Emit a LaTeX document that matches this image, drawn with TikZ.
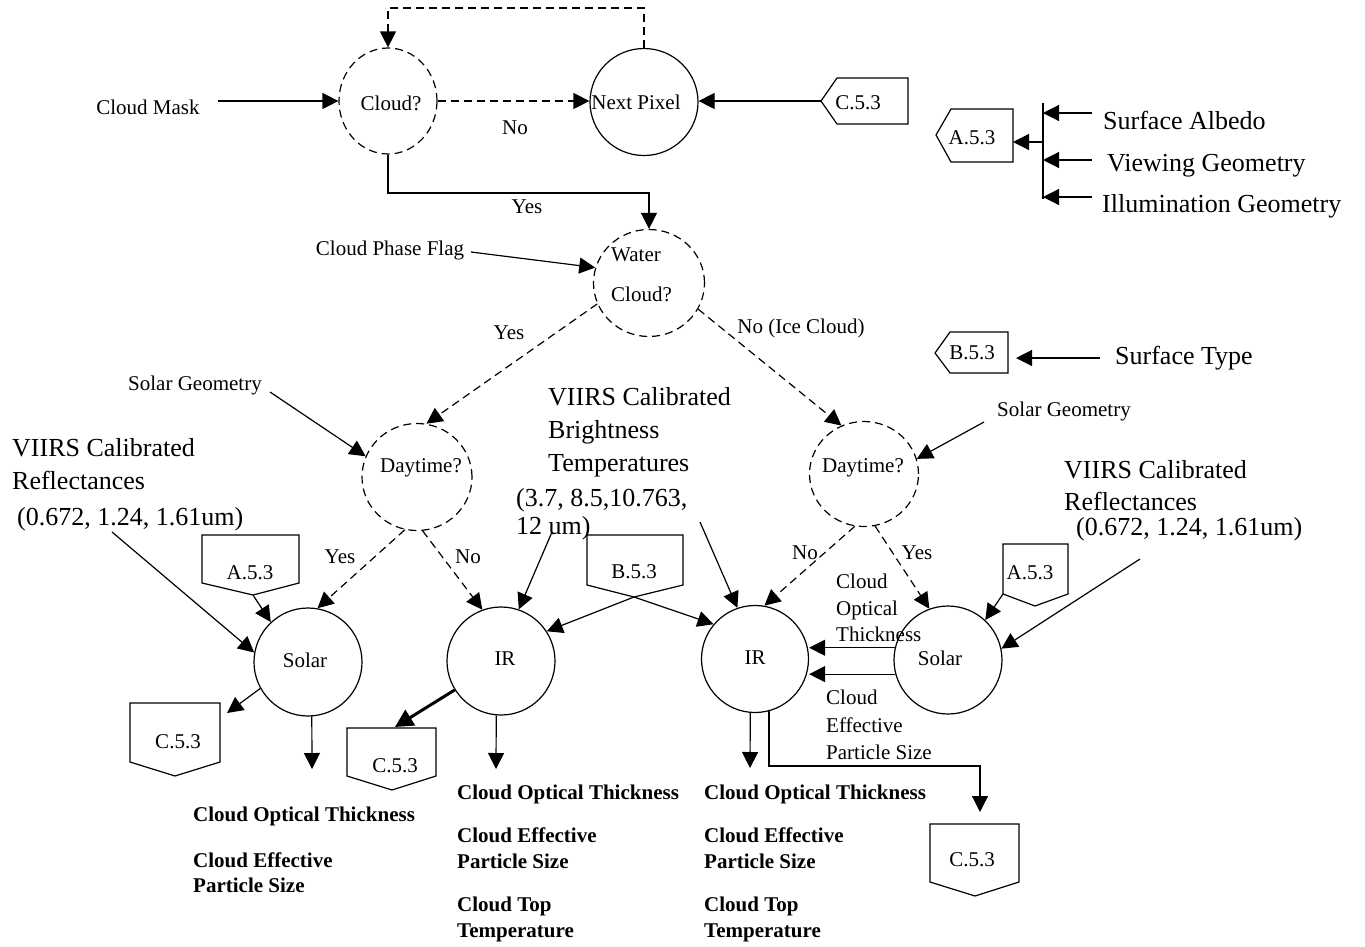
\documentclass[tikz,border=0pt]{standalone}
\usepackage{fontspec}
\setmainfont{Liberation Serif}
\usetikzlibrary{arrows.meta,shapes.geometric,calc}
\begin{document}
\begin{tikzpicture}[x=1pt,y=-1pt,
  ln/.style={line width=1.2pt},
  arr/.style={ln,-{Triangle[length=16pt,width=16pt]}},
  thickarr/.style={line width=3pt,-{Triangle[length=18pt,width=18pt]}},
  dsh/.style={dash pattern=on 8pt off 5pt},
  dec/.style={ellipse,draw,ln,dsh,inner sep=0pt},
  proc/.style={ellipse,draw,ln,inner sep=0pt},
  sm/.style={font=\fontsize{21}{25}\selectfont,inner sep=0pt},
  lg/.style={font=\fontsize{26}{33}\selectfont,inner sep=0pt,align=left},
  bd/.style={font=\bfseries\fontsize{21}{25.5}\selectfont,inner sep=0pt,align=left,anchor=west},
  conn/.style={draw,ln,line join=miter}
]
\useasboundingbox (0,0) rectangle (1365,946);

% ---------- process / decision circles ----------
\node[dec,minimum width=98pt,minimum height=106pt] (cloud) at (388,101) {};
\node[sm] (cloudT) at (391,103) {Cloud?};
\node[proc,minimum width=108pt,minimum height=107pt] (np) at (644,102) {};
\node[sm] (npT) at (636,102) {Next Pixel};
\node[dec,minimum width=111pt,minimum height=107pt] (water) at (649,283) {};
\node[sm,align=left,anchor=west,font=\fontsize{21}{40}\selectfont] (waterT) at (611,275) {Water\\Cloud?};
\node[dec,minimum width=110pt,minimum height=107pt] (dayL) at (417,477) {};
\node[sm] (dayLT) at (421,468) {Daytime?};
\node[dec,minimum width=109pt,minimum height=105pt] (dayR) at (864,474) {};
\node[sm] (dayRT) at (863,468) {Daytime?};
\node[proc,minimum size=108pt] (solL) at (308,662) {};
\node[sm] (solLT) at (305,660) {Solar};
\node[proc,minimum size=108pt] (irL) at (501,661) {};
\node[sm] (irLT) at (505,659) {IR};
\node[proc,minimum size=107pt] (irR) at (755,659) {};
\node[sm] (irRT) at (755,658) {IR};
\node[proc,minimum size=108pt] (solR) at (948,660) {};
\node[sm] (solRT) at (940,658) {Solar};

% ---------- off-page connectors ----------
\draw[conn] (821,101) -- (837,78) -- (908,78) -- (908,124) -- (837,124) -- cycle;
\node[sm] (cTop) at (858,103) {C.5.3};
\coordinate (cTopTip) at (821,101);

\draw[conn] (936,135) -- (951,109) -- (1013,109) -- (1013,162) -- (951,162) -- cycle;
\node[sm] (aTop) at (972,138) {A.5.3};
\coordinate (aTopE) at (1013,142);

\draw[conn] (935,353) -- (950,332) -- (1008,332) -- (1008,373) -- (950,373) -- cycle;
\node[sm] (bR) at (972,353) {B.5.3};
\coordinate (bRTip) at (1016,358);

\draw[conn] (202,535) -- (299,535) -- (299,583) -- (253,595) -- (202,583) -- cycle;
\node[sm] (aL) at (250,573) {A.5.3};
\coordinate (aLTip) at (253,595);

\draw[conn] (587,535) -- (683,535) -- (683,585) -- (634,597) -- (587,585) -- cycle;
\node[sm] (bM) at (634,572) {B.5.3};
\coordinate (bMTip) at (634,597);

\draw[conn] (1003,544) -- (1068,544) -- (1068,594) -- (1035,606) -- (1003,594) -- cycle;
\node[sm] (aR) at (1030,573) {A.5.3};
\coordinate (aRS) at (1003,594);

\draw[conn] (130,703) -- (220,703) -- (220,762) -- (175,776) -- (130,762) -- cycle;
\node[sm] (cL) at (178,742) {C.5.3};
\coordinate (cLTip) at (227,713);

\draw[conn] (347,728) -- (436,728) -- (436,776) -- (392,790) -- (347,776) -- cycle;
\node[sm] (cM) at (395,766) {C.5.3};
\coordinate (cMTip) at (395,727);

\draw[conn] (930,824) -- (1019,824) -- (1019,882) -- (975,896) -- (930,882) -- cycle;
\node[sm] (cR) at (972,860) {C.5.3};
\coordinate (cRTip) at (980,812);

% ---------- input / output texts ----------
\node[sm] (cm) at (148,107) {Cloud Mask};
\coordinate (cmS) at (218,101);
\node[sm] (cpf) at (390,250) {Cloud Phase Flag};
\coordinate (cpfS) at (471,252);
\node[sm] (sgL) at (195,385) {Solar Geometry};
\coordinate (sgLS) at (270,392);
\node[sm] (sgR) at (1064,411) {Solar Geometry};
\coordinate (sgRS) at (984,422);

\node[lg,anchor=west] (vL) at (12,485) {VIIRS Calibrated\\Reflectances\\[3pt]\hspace*{5pt}(0.672, 1.24, 1.61um)};
\coordinate (vLS) at (112,532);
\node[lg,anchor=west] (vM) at (516,464) {\hspace*{32pt}VIIRS Calibrated\\\hspace*{32pt}Brightness\\\hspace*{32pt}Temperatures\\[2pt](3.7, 8.5,10.763,\\[-5pt]12 um)};
\coordinate (vMS1) at (552,532);
\coordinate (vMS2) at (700,522);
\node[lg,anchor=west,font=\fontsize{26}{31}\selectfont] (vR) at (1064,501) {VIIRS Calibrated\\[1pt]Reflectances\\[-6pt]\hspace*{12pt}(0.672, 1.24, 1.61um)};
\coordinate (vRS) at (1140,559);

\node[lg,anchor=west] (sa) at (1103,120) {Surface Albedo};
\node[lg,anchor=west] (vg) at (1107,166) {Viewing Geometry};
\node[lg,anchor=west] (ig) at (1102,206) {Illumination Geometry};
\node[lg,anchor=west] (st) at (1115,358) {Surface Type};
\coordinate (saS) at (1092,113);
\coordinate (vgS) at (1092,160);
\coordinate (igS) at (1092,197);
\coordinate (stS) at (1100,358);
\coordinate (busTop) at (1043,103);
\coordinate (busBot) at (1043,199);
\coordinate (busA) at (1043,142);

\node[sm,align=left,anchor=west,font=\fontsize{21}{26.5}\selectfont] (tOT) at (836,608) {Cloud\\Optical\\Thickness};
\node[sm,align=left,anchor=west,font=\fontsize{21}{27.5}\selectfont] (tES) at (826,725) {Cloud\\Effective\\Particle Size};

\node[bd] (oL) at (193,850) {Cloud Optical Thickness\\[20pt]Cloud Effective\\Particle Size};
\node[bd] (oM) at (457,863) {Cloud Optical Thickness\\[18pt]Cloud Effective\\Particle Size\\[18pt]Cloud Top\\Temperature};
\node[bd] (oR) at (704,863) {Cloud Optical Thickness\\[18pt]Cloud Effective\\Particle Size\\[18pt]Cloud Top\\Temperature};
\coordinate (oLA) at (312,769);
\coordinate (oMA) at (496,769);
\coordinate (oRA) at (750,768);

% ---------- branch labels ----------
\node[sm] (lNo1) at (515,128) {No};
\node[sm] (lYes1) at (527,207) {Yes};
\node[sm] (lYes2) at (509,333) {Yes};
\node[sm] (lNo2) at (801,328) {No (Ice Cloud)};
\node[sm] (lYes3) at (340,557) {Yes};
\node[sm] (lNo3) at (468,557) {No};
\node[sm] (lNo4) at (805,553) {No};
\node[sm] (lYes4) at (917,553) {Yes};

% ---------- connectors ----------
\coordinate (loopTop) at (500,8);
\coordinate (yesBend) at (388,193);
\coordinate (bendR) at (980,766);

\draw[arr] (cmS) -- (cloud.180);
\draw[arr,dsh] (cloud.0) -- (cloud.0 -| np.west);
\draw[arr,dsh] (np.north) |- (loopTop) -| (cloud.north);
\draw[arr] (cTopTip) -- (cTopTip -| np.east);
\draw[arr] (cloud.south) -- (yesBend) -| (water.north);
\draw[arr] (cpfS) -- (water.164);
\draw[arr,dsh] (water.202) -- (dayL.80);
\draw[arr,dsh] (water.332) -- (dayR.115);
\draw[arr] (sgLS) -- (dayL.158);
\draw[arr] (sgRS) -- (dayR.16);
\draw[arr,dsh] (dayL.257) -- (solL.80);
\draw[arr,dsh] (dayL.276) -- (irL.110);
\draw[arr,dsh] (dayR.260) -- (irR.80);
\draw[arr,dsh] (dayR.282) -- (solR.110);
\draw[arr] (vLS) -- (solL.170);
\draw[arr] (aLTip) -- (solL.133);
\draw[arr] (solL.209) -- (cLTip);
\draw[arr] (solL.274) -- (oLA);
\draw[arr] (vMS1) -- (irL.71);
\draw[arr] (vMS2) -- (irR.109);
\draw[arr] (bMTip) -- (irL.33);
\draw[arr] (bMTip) -- (irR.140);
\draw[thickarr] (irL.212) -- (cMTip);
\draw[arr] (irL.265) -- (oMA);
\draw[arr] (irR.265) -- (oRA);
\draw[arr] (irR.285) |- (bendR) -- (cRTip);
\draw[arr] (solR.167) -- (solR.167 -| irR.east);
\draw[arr] (solR.195) -- (solR.195 -| irR.east);
\draw[arr] (aRS) -- (solR.47);
\draw[arr] (vRS) -- (solR.12);
\draw[arr] (stS) -- (bRTip);
\draw[ln] (busTop) -- (busBot);
\draw[arr] (busA) -- (aTopE);
\draw[arr] (saS) -- (saS -| busTop);
\draw[arr] (vgS) -- (vgS -| busTop);
\draw[arr] (igS) -- (igS -| busTop);
\end{tikzpicture}
\end{document}
